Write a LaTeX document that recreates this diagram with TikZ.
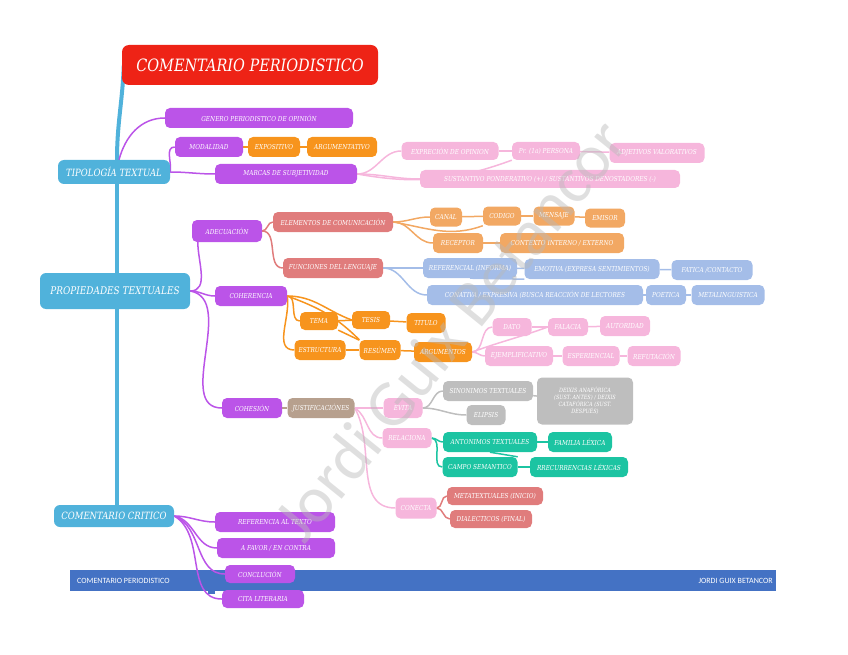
\documentclass[tikz,border=0pt]{standalone}
\usepackage{fontspec}
\usetikzlibrary{backgrounds}
\newfontfamily\nf[FakeStretch=0.85]{DejaVu Serif}
\newfontfamily\ff{Carlito}
\definecolor{cred}{RGB}{238,35,22}
\definecolor{cblue}{RGB}{80,178,219}
\definecolor{cpurp}{RGB}{187,84,232}
\definecolor{corng}{RGB}{247,148,29}
\definecolor{clorg}{RGB}{242,168,99}
\definecolor{csalm}{RGB}{224,124,124}
\definecolor{cpink}{RGB}{246,182,220}
\definecolor{clblu}{RGB}{164,189,232}
\definecolor{cteal}{RGB}{28,196,162}
\definecolor{ctan}{RGB}{183,160,142}
\definecolor{cgray}{RGB}{190,190,190}
\definecolor{footblue}{RGB}{68,114,196}
\tikzset{
  bx/.style={rounded corners=5pt, fill=#1, text=white, font=\nf\itshape\fontsize{6.8}{8}\selectfont,
    minimum height=20pt, inner xsep=2pt, inner ysep=2pt, align=center},
  big/.style={font=\nf\itshape\fontsize{10}{12}\selectfont, rounded corners=6pt},
  ln/.style={draw=#1, line width=1.5pt},
  trunk/.style={draw=cblue, line width=4pt},
  foot/.style={text=white, font=\ff\fontsize{8}{9}\selectfont, inner sep=0pt},
}
\begin{document}
\begin{tikzpicture}[x=1pt,y=-1pt]
\useasboundingbox (0,0) rectangle (848,655);
% title
\node[bx=cred, minimum width=256pt, minimum height=40pt, rounded corners=7pt,
  font=\nf\itshape\fontsize{17}{20}\selectfont] (title) at (250,65) {COMENTARIO PERIODISTICO};
% main blue
\node[bx=cblue, big, minimum width=112pt, minimum height=24pt] (tip) at (114,172) {TIPOLOGÍA TEXTUAL};
\node[bx=cblue, big, minimum width=150pt, minimum height=36pt, font=\nf\itshape\fontsize{10.5}{12}\selectfont] (prop) at (115,291) {PROPIEDADES TEXTUALES};
\node[bx=cblue, big, minimum width=120pt, minimum height=22pt] (crit) at (114,516) {COMENTARIO CRITICO};
% purple
\node[bx=cpurp, minimum width=188pt] (gen) at (259,118) {GENERO PERIODISTICO DE OPINIÓN};
\node[bx=cpurp, minimum width=68pt] (mod) at (209,147) {MODALIDAD};
\node[bx=cpurp, minimum width=142pt] (marcas) at (286,174) {MARCAS DE SUBJETIVIDAD};
\node[bx=cpurp, minimum width=70pt, minimum height=22pt] (ade) at (227,231) {ADECUACIÓN};
\node[bx=cpurp, minimum width=72pt] (coh) at (251,296) {COHERENCIA};
\node[bx=cpurp, minimum width=60pt] (cohe) at (252,408) {COHESIÓN};
\node[bx=cpurp, minimum width=120pt] (refx) at (275,522) {REFERENCIA AL TEXTO};
\node[bx=cpurp, minimum width=118pt] (fav) at (276,548) {A FAVOR / EN CONTRA};
\node[bx=cpurp, minimum width=70pt, minimum height=18pt] (conc) at (260,574) {CONCLUCIÓN};
\node[bx=cpurp, minimum width=82pt, minimum height=18pt] (cita) at (263,599) {CITA LITERARIA};
% orange
\node[bx=corng, minimum width=52pt] (expo) at (274,147) {EXPOSITIVO};
\node[bx=corng, minimum width=70pt] (argu) at (342,147) {ARGUMENTATIVO};
\node[bx=corng, minimum width=38pt, minimum height=18pt] (tema) at (319,321) {TEMA};
\node[bx=corng, minimum width=38pt, minimum height=18pt] (tesis) at (371,320) {TESIS};
\node[bx=corng, minimum width=39pt] (titulo) at (426,323) {TITULO};
\node[bx=corng, minimum width=51pt] (estr) at (320,350) {ESTRUCTURA};
\node[bx=corng, minimum width=41pt] (resu) at (380,350) {RESÚMEN};
\node[bx=corng, minimum width=58pt] (argm) at (443,352) {ARGUMENTOS};
% light orange
\node[bx=clorg, minimum width=32pt, minimum height=19pt] (canal) at (446,217) {CANAL};
\node[bx=clorg, minimum width=38pt, minimum height=19pt] (codigo) at (502,216) {CODIGO};
\node[bx=clorg, minimum width=41pt, minimum height=19pt] (mensaje) at (554,216) {MENSAJE};
\node[bx=clorg, minimum width=40pt, minimum height=19pt] (emisor) at (605,218) {EMISOR};
\node[bx=clorg, minimum width=50pt] (recep) at (458,243) {RECEPTOR};
\node[bx=clorg, minimum width=124pt] (contexto) at (562,243) {CONTEXTO INTERNO / EXTERNO};
% salmon
\node[bx=csalm, minimum width=120pt] (elem) at (333,222) {ELEMENTOS DE COMUNICACIÓN};
\node[bx=csalm, minimum width=100pt] (func) at (333,268) {FUNCIONES DEL LENGUAJE};
\node[bx=csalm, minimum width=96pt, minimum height=18pt] (meta) at (495,496) {METATEXTUALES (INICIO)};
\node[bx=csalm, minimum width=82pt, minimum height=18pt] (dial) at (491,519) {DIALECTICOS (FINAL)};
% pink
\node[bx=cpink, minimum width=97pt, minimum height=18pt] (expr) at (450,151) {EXPRECIÓN DE OPINION};
\node[bx=cpink, minimum width=68pt, minimum height=18pt] (pers) at (546,151) {Pr. (1a) PERSONA};
\node[bx=cpink, minimum width=95pt] (adje) at (657,153) {ADJETIVOS VALORATIVOS};
\node[bx=cpink, minimum width=260pt, minimum height=18pt] (sust) at (550,179) {SUSTANTIVO PONDERATIVO (+) / SUSTANTIVOS DENOSTADORES (-)};
\node[bx=cpink, minimum width=39pt, minimum height=18pt] (dato) at (512,327) {DATO};
\node[bx=cpink, minimum width=40pt, minimum height=18pt] (fala) at (568,327) {FALACIA};
\node[bx=cpink, minimum width=50pt] (auto) at (625,326) {AUTORIDAD};
\node[bx=cpink, minimum width=68pt] (ejem) at (519,356) {EJEMPLIFICATIVO};
\node[bx=cpink, minimum width=57pt] (espe) at (591,356) {ESPERIENCIAL};
\node[bx=cpink, minimum width=53pt] (refu) at (654,356) {REFUTACIÓN};
\node[bx=cpink, minimum width=39pt] (evita) at (403,408) {EVITA};
\node[bx=cpink, minimum width=49pt] (rela) at (407,438) {RELACIONA};
\node[bx=cpink, minimum width=41pt, minimum height=21pt] (conecta) at (416,508) {CONECTA};
% light blue
\node[bx=clblu, minimum width=94pt] (refer) at (470,268) {REFERENCIAL (INFORMA)};
\node[bx=clblu, minimum width=135pt] (emot) at (592,269) {EMOTIVA (EXPRESA SENTIMIENTOS)};
\node[bx=clblu, minimum width=81pt] (fati) at (712,270) {FATICA /CONTACTO};
\node[bx=clblu, minimum width=216pt] (cona) at (535,295) {CONATIVA / EXPRESIVA (BUSCA REACCIÓN DE LECTORES};
\node[bx=clblu, minimum width=40pt] (poet) at (666,295) {POETICA};
\node[bx=clblu, minimum width=73pt] (metal) at (728,295) {METALINGUISTICA};
% tan / gray
\node[bx=ctan, minimum width=67pt] (just) at (321,408) {JUSTIFICACIÓNES};
\node[bx=cgray, minimum width=90pt] (sino) at (488,391) {SINONIMOS TEXTUALES};
\node[bx=cgray, minimum width=39pt] (elip) at (486,415) {ELIPSIS};
\node[bx=cgray, minimum width=96pt, minimum height=47pt, font=\nf\itshape\fontsize{5.8}{7}\selectfont] (deix) at (585,401) {DEIXIS ANAFÓRICA\\(SUST. ANTES) / DEIXIS\\CATAFÓRICA (SUST.\\DESPUÉS)};
% teal
\node[bx=cteal, minimum width=94pt] (anto) at (490,442) {ANTONIMOS TEXTUALES};
\node[bx=cteal, minimum width=64pt] (fami) at (580,442) {FAMILIA LÉXICA};
\node[bx=cteal, minimum width=75pt] (campo) at (480,467) {CAMPO SEMANTICO};
\node[bx=cteal, minimum width=98pt] (rrec) at (579,467) {RRECURRENCIAS LÉXICAS};
% footer texts
\node[foot, anchor=west] (fl) at (77,580.5) {COMENTARIO PERIODISTICO};
\node[foot, anchor=east] (fr) at (773,580.5) {JORDI GUIX BETANCOR};

\begin{pgfonlayer}{background}
\fill[footblue] (70,570) rectangle (776,591);
\fill[footblue] (208,575) rectangle (215,594);
\fill[footblue] (203,581) rectangle (221,588);
% trunk
\draw[trunk] ([xshift=2pt]title.west) to[out=-92,in=90] ([xshift=3pt]tip.north);
\draw[trunk] ([xshift=3pt]tip.south) -- ([xshift=2pt]prop.north);
\draw[trunk] ([xshift=2pt]prop.south) -- ([xshift=3pt]crit.north);
% tipologia
\draw[ln=cpurp] ([xshift=5pt]tip.north) to[out=75,in=180] (gen.west);
\draw[ln=cpurp] (tip.east) to[out=80,in=180] (mod.west);
\draw[ln=cpurp] (tip.east) to[out=0,in=180] (marcas.west);
\draw[ln=corng] (mod) -- (expo);
\draw[ln=corng] (expo) -- (argu);
\draw[ln=cpink] (marcas.east) to[out=0,in=180] (expr.west);
\draw[ln=cpink] (marcas.east) to[out=0,in=180] (sust.west);
\draw[ln=cpink] (marcas.east) to[out=-10,in=200] (pers.south west);
\draw[ln=cpink] (expr) -- (pers);
\draw[ln=cpink] (pers) -- (adje);
% propiedades
\draw[ln=cpurp] (prop.east) to[out=0,in=270] ([xshift=6pt]ade.south west);
\draw[ln=cpurp] (prop.east) to[out=0,in=180] (coh.west);
\draw[ln=cpurp] (prop.east) to[out=-10,in=180] (cohe.west);
% adecuacion
\draw[ln=csalm] (ade.east) to[out=0,in=180] (elem.west);
\draw[ln=csalm] (ade.east) to[out=0,in=180] (func.west);
\draw[ln=clorg] (elem.east) to[out=0,in=180] (canal.west);
\draw[ln=clorg] (elem.east) to[out=-10,in=200] (codigo.south west);
\draw[ln=clorg] (elem.east) to[out=0,in=180] (recep.west);
\draw[ln=clorg] (canal) -- (codigo);
\draw[ln=clorg] (codigo) -- (mensaje);
\draw[ln=clorg] (mensaje) -- (emisor);
\draw[ln=clorg] (recep) -- (contexto);
\draw[ln=clblu] (func.east) to[out=0,in=180] (refer.west);
\draw[ln=clblu] (func.east) to[out=0,in=180] (cona.west);
\draw[ln=clblu] (refer) -- (emot);
\draw[ln=clblu] (emot) -- (fati);
\draw[ln=clblu] (cona) -- (poet);
\draw[ln=clblu] (poet) -- (metal);
\draw[ln=clblu] (refer.south) -- (emot.south west);
% coherencia
\draw[ln=corng] (coh.east) to[out=0,in=180] (tema.west);
\draw[ln=corng] (coh.east) to[out=0,in=160] (tesis.west);
\draw[ln=corng] (coh.east) to[out=-80,in=180] (estr.west);
\draw[ln=corng] (coh.east) to[out=-20,in=135] (resu.north west);
\draw[ln=corng] (tema) -- (tesis);
\draw[ln=corng] (tesis) -- (titulo);
\draw[ln=corng] (tema) -- (resu);
\draw[ln=corng] (estr) -- (resu);
\draw[ln=corng] (resu) -- (argm);
\draw[ln=cpink] (argm.east) to[out=0,in=180] (dato.west);
\draw[ln=cpink] (argm.east) to[out=20,in=200] (fala.west);
\draw[ln=cpink] (argm.east) to[out=0,in=180] (ejem.west);
\draw[ln=cpink] (dato) -- (fala);
\draw[ln=cpink] (fala) -- (auto);
\draw[ln=cpink] (ejem) -- (espe);
\draw[ln=cpink] (espe) -- (refu);
% cohesion
\draw[ln=ctan] (cohe) -- (just);
\draw[ln=cpink] (just.east) to[out=0,in=180] (evita.west);
\draw[ln=cpink] (just.east) to[out=-30,in=180] (rela.west);
\draw[ln=cpink] (just.east) to[out=-60,in=180] (conecta.west);
\draw[ln=cgray] (evita.east) to[out=0,in=180] (sino.west);
\draw[ln=cgray] (evita.east) to[out=0,in=180] (elip.west);
\draw[ln=cgray] (sino) -- (deix);
\draw[ln=cteal] (rela.east) to[out=0,in=180] (anto.west);
\draw[ln=cteal] (rela.east) to[out=-10,in=180] (campo.west);
\draw[ln=cteal] (anto) -- (fami);
\draw[ln=cteal] (campo) -- (rrec);
\draw[ln=cteal] (anto.south) -- (campo.north east);
\draw[ln=csalm] (conecta.east) to[out=0,in=180] (meta.west);
\draw[ln=csalm] (conecta.east) to[out=0,in=180] (dial.west);
% critico
\draw[ln=cpurp] (crit.east) to[out=0,in=180] (refx.west);
\draw[ln=cpurp] (crit.east) to[out=-10,in=180] (fav.west);
\draw[ln=cpurp] (crit.east) to[out=-20,in=180] (conc.west);
\draw[ln=cpurp] (crit.east) to[out=-30,in=180] (cita.west);
\end{pgfonlayer}
% watermark
\node[rotate=51, text=gray!55, opacity=0.45, font=\ff\fontsize{66}{66}\selectfont, inner sep=0pt] (wm) at (450,330) {Jordi Guix Betancor};
\end{tikzpicture}
\end{document}
